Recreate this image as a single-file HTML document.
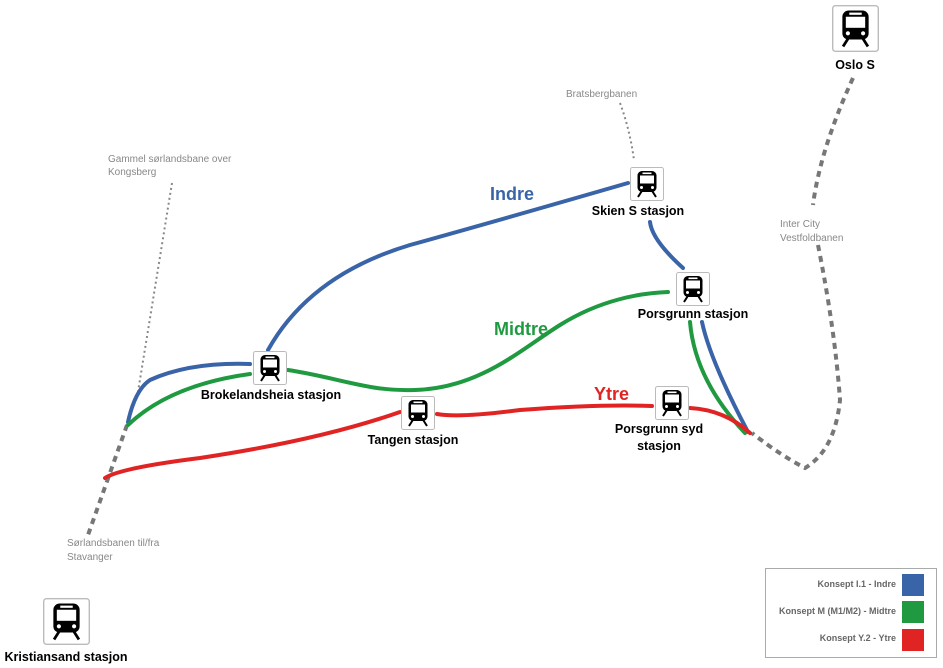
<!DOCTYPE html>
<html><head><meta charset="utf-8"><style>
html,body{margin:0;padding:0;background:#fff}
svg{display:block}
text{font-family:"Liberation Sans",Arial,sans-serif}
.st{font-weight:bold;font-size:12.5px;fill:#000;text-anchor:middle}
.gl{font-size:10px;fill:#888}
</style></head><body>
<svg width="943" height="668" viewBox="0 0 943 668" xmlns="http://www.w3.org/2000/svg">
<defs>
<symbol id="tr" viewBox="0 0 34 34">
<rect x="0.5" y="0.5" width="33" height="33" rx="2" fill="#fff" stroke="#bbb"/>
<rect x="7.5" y="4" width="19" height="21" rx="4.5" fill="#000"/>
<rect x="10" y="8.5" width="14" height="8" fill="#fff"/>
<rect x="12.5" y="5.5" width="9" height="1.6" fill="#fff"/>
<circle cx="11.5" cy="20.5" r="1.5" fill="#fff"/>
<circle cx="22.5" cy="20.5" r="1.5" fill="#fff"/>
<path d="M11.5 24.5 L8 30 M22.5 24.5 L26 30" stroke="#000" stroke-width="2"/>
</symbol>
</defs>
<path d="M172 183 L137 398" stroke="#888" stroke-width="2" stroke-dasharray="2 3" fill="none"/>
<path d="M127 425 L88 535" stroke="#777" stroke-width="4" stroke-dasharray="6 5" fill="none"/>
<path d="M620 103 Q630 130 634 160" stroke="#888" stroke-width="2" stroke-dasharray="2 3" fill="none"/>
<path d="M853 78 Q820 150 813 205" stroke="#777" stroke-width="4" stroke-dasharray="6 5" fill="none"/>
<path d="M818 245 Q835 330 840 400 Q835 450 805 468 Q780 455 752 433" stroke="#777" stroke-width="4" stroke-dasharray="6 5" fill="none"/>
<g fill="none" stroke-width="4" stroke-linecap="round">
<path d="M128 422 Q135 390 150 380 Q190 362 250 364" stroke="#3a64a8"/>
<path d="M268 350 Q310 275 410 245 Q500 220 628 183" stroke="#3a64a8"/>
<path d="M650 222 Q652 240 683 268" stroke="#3a64a8"/>
<path d="M702 322 Q710 360 748 432" stroke="#3a64a8"/>
<path d="M128 425 Q170 385 250 374" stroke="#1f9a40"/>
<path d="M288 370 C340 378 370 392 415 390 C480 388 520 350 560 325 C600 300 640 293 668 292" stroke="#1f9a40"/>
<path d="M690 322 Q695 380 745 433" stroke="#1f9a40"/>
<path d="M105 478 Q120 468 200 458 Q320 440 400 412" stroke="#e02424"/>
<path d="M437 414 Q460 418 520 410 Q600 404 652 406" stroke="#e02424"/>
<path d="M690 408 Q725 410 750 433" stroke="#e02424"/>
</g>
<text x="490" y="200" font-size="18" font-weight="bold" fill="#3a64a8">Indre</text>
<text x="494" y="335" font-size="18" font-weight="bold" fill="#1f9a40">Midtre</text>
<text x="594" y="400" font-size="18" font-weight="bold" fill="#e02424">Ytre</text>
<text class="gl" x="108" y="162">Gammel sørlandsbane over</text>
<text class="gl" x="108" y="175">Kongsberg</text>
<text class="gl" x="566" y="97">Bratsbergbanen</text>
<text class="gl" x="780" y="227">Inter City</text>
<text class="gl" x="780" y="241">Vestfoldbanen</text>
<text class="gl" x="67" y="546">Sørlandsbanen til/fra</text>
<text class="gl" x="67" y="560">Stavanger</text>
<use href="#tr" x="630" y="167" width="34" height="34"/>
<text class="st" x="638" y="215">Skien S stasjon</text>
<use href="#tr" x="676" y="272" width="34" height="34"/>
<text class="st" x="693" y="318">Porsgrunn stasjon</text>
<use href="#tr" x="253" y="351" width="34" height="34"/>
<text class="st" x="271" y="399">Brokelandsheia stasjon</text>
<use href="#tr" x="401" y="396" width="34" height="34"/>
<text class="st" x="413" y="444">Tangen stasjon</text>
<use href="#tr" x="655" y="386" width="34" height="34"/>
<text class="st" x="659" y="433">Porsgrunn syd</text>
<text class="st" x="659" y="450">stasjon</text>
<use href="#tr" x="832" y="5" width="47" height="47"/>
<text class="st" x="855" y="69">Oslo S</text>
<use href="#tr" x="43" y="598" width="47" height="47"/>
<text class="st" x="66" y="661">Kristiansand stasjon</text>
<rect x="765.5" y="568.5" width="171" height="89" fill="#fff" stroke="#aaa"/>
<g font-size="9" font-weight="bold" fill="#666" text-anchor="end">
<text x="896" y="587">Konsept I.1 - Indre</text>
<text x="896" y="614">Konsept M (M1/M2) - Midtre</text>
<text x="896" y="641">Konsept Y.2 - Ytre</text>
</g>
<rect x="902" y="574" width="22" height="22" fill="#3a64a8"/>
<rect x="902" y="601" width="22" height="22" fill="#1f9a40"/>
<rect x="902" y="629" width="22" height="22" fill="#e02424"/>
</svg>
</body></html>
